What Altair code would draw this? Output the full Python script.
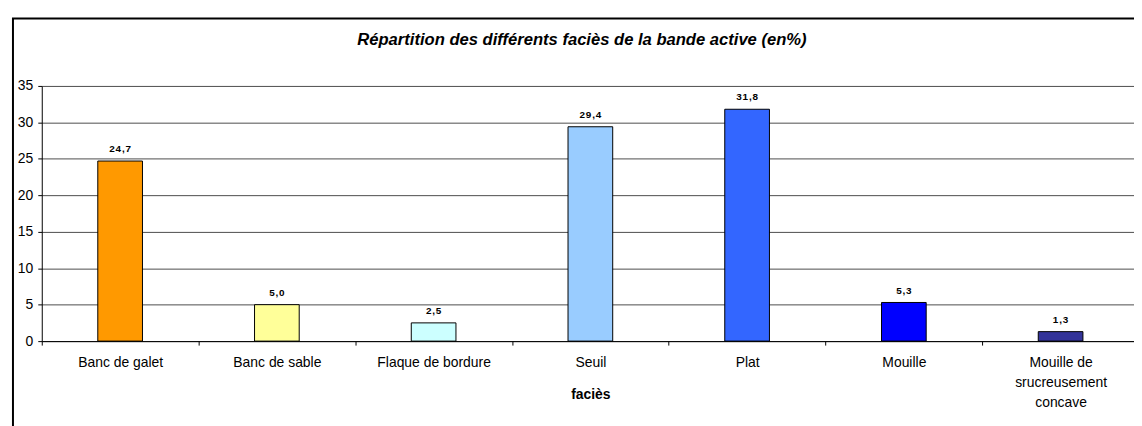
import altair as alt
import pandas as pd

title_text = "Répartition des différents faciès de la bande active (en%)"
categories = ["Banc de galet", "Banc de sable", "Flaque de bordure", "Seuil",
              "Plat", "Mouille", "Mouille de srucreusement concave"]
values = [24.7, 5.0, 2.5, 29.4, 31.8, 5.3, 1.3]
colors = ["#FF9900", "#FFFF99", "#CCFFFF", "#99CCFF", "#3366FF", "#0000FF", "#333399"]
y_ticks = [0, 5, 10, 15, 20, 25, 30, 35]

FONT = "Liberation Sans"
W, H = 1105, 257

df = pd.DataFrame({"facies": categories, "pct": values})
df["label"] = ["\u200a".join(f"{v:.1f}".replace(".", ",")) for v in values]

x_enc = alt.X(
    "facies:N", sort=categories, title="faciès",
    scale=alt.Scale(paddingInner=0, paddingOuter=0),
    axis=alt.Axis(
        labelAngle=0, tickBand="extent", tickSize=4, grid=False,
        labelFont=FONT, labelFontSize=14, labelColor="black", labelPadding=11,
        labelLineHeight=20,
        labelExpr="datum.label == 'Mouille de srucreusement concave' ? ['Mouille de', 'srucreusement', 'concave'] : datum.label",
        domainColor="black", tickColor="black",
        titleFont=FONT, titleFontSize=14, titleFontWeight="bold", titleColor="black",
        titleY=58, titleBaseline="alphabetic",
    ),
)
y_enc = alt.Y(
    "pct:Q", title=None,
    scale=alt.Scale(domain=[0, 35], nice=False),
    axis=alt.Axis(
        values=y_ticks, grid=True, gridColor="#4d4d4d", gridWidth=1,
        tickSize=4, tickColor="black", domainColor="black",
        labelFont=FONT, labelFontSize=14, labelColor="black", labelPadding=5,
    ),
)

bars = alt.Chart(df).mark_bar(width=45, stroke="black", strokeWidth=1).encode(
    x=x_enc, y=y_enc,
    color=alt.Color("facies:N", sort=categories,
                    scale=alt.Scale(domain=categories, range=colors), legend=None),
)

texts = alt.Chart(df).mark_text(
    baseline="alphabetic", dy=-9, fontSize=10, fontWeight="bold", font=FONT, color="black"
).encode(x=x_enc, y=y_enc, text="label:N")

frame = alt.Chart(pd.DataFrame({"f": [0]})).mark_rect(
    fillOpacity=0, stroke="black", strokeWidth=2
).encode(
    x=alt.value(-29), x2=alt.value(W + 60), y=alt.value(-68), y2=alt.value(H + 120)
)

title = alt.Chart(pd.DataFrame({"t": [title_text]})).mark_text(
    font=FONT, fontSize=16.7, fontWeight="bold", fontStyle="italic", color="black",
    align="center", baseline="alphabetic",
).encode(x=alt.value(W / 2 - 8.5), y=alt.value(-41), text="t:N")

chart = alt.layer(frame, title, bars, texts).properties(
    width=W, height=H,
    background="white",
    autosize=alt.AutoSizeParams(type="none"),
    padding={"left": 34, "top": 77, "right": -5, "bottom": 84},
).configure_view(stroke=None)

chart.save("out.html", embed_options={"renderer": "svg", "actions": False})
